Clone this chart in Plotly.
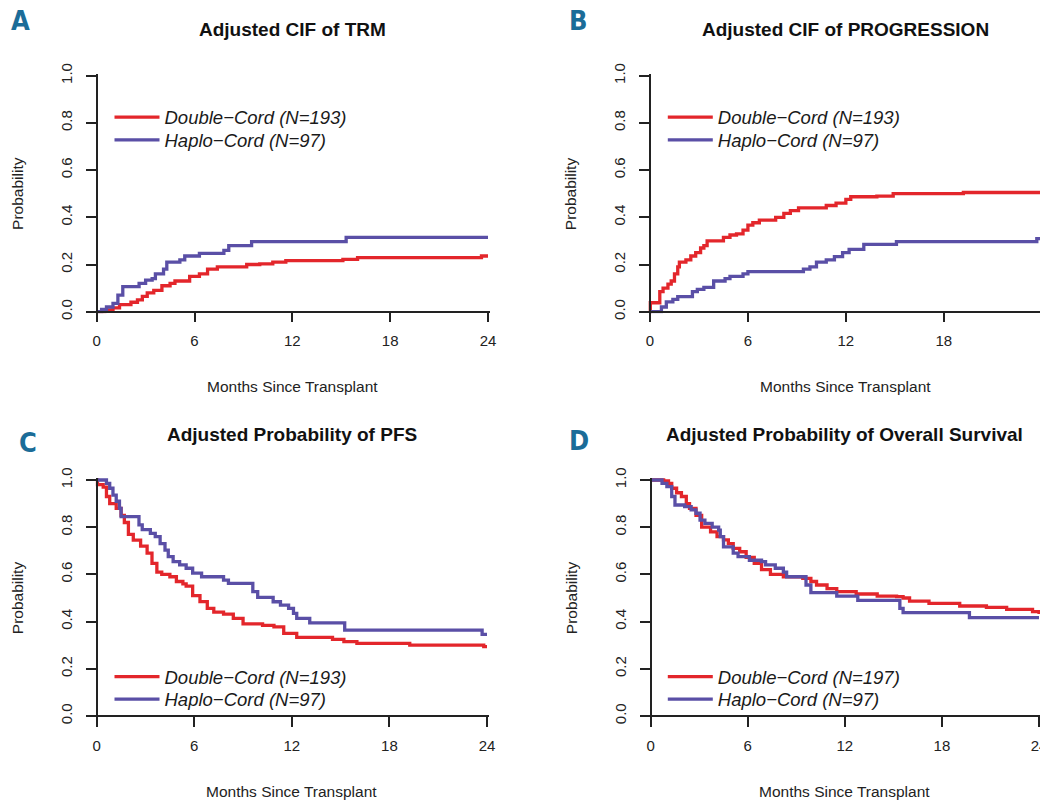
import plotly.graph_objects as go

# ---------------- data ----------------
months_ticks = [0, 6, 12, 18, 24]
prob_ticks = [0.0, 0.2, 0.4, 0.6, 0.8, 1.0]

trm_dc_t = [0, 0.5, 1.0, 1.4, 2.1, 2.5, 2.8, 3.1, 3.5, 4.0, 4.5, 4.8, 5.7, 6.3, 6.8, 7.4, 9.2, 10.0, 10.8, 11.6, 15.1, 16.0, 23.6, 24]
trm_dc_v = [0, 0.008, 0.016, 0.03, 0.04, 0.05, 0.065, 0.08, 0.09, 0.11, 0.12, 0.13, 0.15, 0.16, 0.18, 0.19, 0.20, 0.203, 0.21, 0.216, 0.222, 0.229, 0.236, 0.236]
trm_hc_t = [0, 0.3, 0.6, 1.0, 1.3, 1.6, 2.6, 3.0, 3.4, 3.6, 4.1, 4.3, 5.1, 5.4, 6.3, 7.8, 8.1, 9.5, 15.3, 24]
trm_hc_v = [0, 0.01, 0.02, 0.035, 0.07, 0.106, 0.12, 0.134, 0.14, 0.16, 0.18, 0.21, 0.22, 0.236, 0.247, 0.26, 0.28, 0.297, 0.315, 0.315]

prog_dc_t = [0, 0.02, 0.6, 0.8, 1.1, 1.3, 1.5, 1.7, 1.8, 2.2, 2.5, 2.8, 3.1, 3.3, 3.5, 4.5, 4.9, 5.3, 5.7, 6.0, 6.3, 6.7, 7.7, 8.2, 8.6, 9.1, 10.8, 11.4, 12.0, 12.3, 13.9, 14.9, 19.2, 24]
prog_dc_v = [0, 0.038, 0.085, 0.10, 0.117, 0.13, 0.16, 0.19, 0.21, 0.22, 0.236, 0.25, 0.27, 0.28, 0.30, 0.315, 0.325, 0.33, 0.346, 0.367, 0.377, 0.388, 0.40, 0.417, 0.428, 0.44, 0.45, 0.46, 0.476, 0.487, 0.49, 0.50, 0.505, 0.505]
prog_hc_t = [0, 0.4, 0.7, 1.0, 1.4, 1.7, 2.6, 2.9, 3.3, 3.9, 4.6, 4.9, 5.7, 6.0, 9.4, 9.8, 10.2, 10.8, 11.3, 11.8, 12.2, 13.1, 15.1, 23.7, 24]
prog_hc_v = [0, 0.0, 0.02, 0.042, 0.052, 0.064, 0.085, 0.095, 0.103, 0.13, 0.14, 0.15, 0.16, 0.17, 0.18, 0.19, 0.21, 0.22, 0.233, 0.25, 0.264, 0.285, 0.297, 0.31, 0.31]

pfs_dc_t = [0, 0.05, 0.4, 0.6, 0.8, 1.2, 1.5, 1.7, 1.95, 2.25, 2.7, 3.1, 3.4, 3.7, 4.0, 4.5, 4.9, 5.3, 5.5, 5.9, 6.35, 6.8, 7.2, 7.8, 8.4, 9.0, 10.2, 10.9, 11.5, 12.3, 14.5, 15.2, 16.0, 19.25, 23.8, 24]
pfs_dc_v = [1.0, 0.98, 0.97, 0.93, 0.90, 0.88, 0.85, 0.82, 0.77, 0.745, 0.72, 0.69, 0.647, 0.61, 0.60, 0.59, 0.57, 0.56, 0.55, 0.51, 0.485, 0.456, 0.44, 0.432, 0.414, 0.39, 0.384, 0.378, 0.35, 0.333, 0.325, 0.315, 0.308, 0.30, 0.294, 0.294]
pfs_hc_t = [0, 0.6, 0.8, 1.0, 1.2, 1.4, 1.5, 2.6, 2.8, 3.3, 3.6, 3.9, 4.2, 4.4, 4.7, 5.1, 5.5, 5.9, 6.45, 7.8, 8.1, 9.6, 9.9, 10.85, 11.3, 11.8, 12.1, 12.3, 13.1, 15.25, 23.7, 24]
pfs_hc_v = [1.0, 0.986, 0.965, 0.936, 0.91, 0.88, 0.845, 0.81, 0.79, 0.774, 0.76, 0.73, 0.703, 0.675, 0.654, 0.64, 0.626, 0.605, 0.59, 0.576, 0.562, 0.527, 0.503, 0.484, 0.47, 0.456, 0.435, 0.414, 0.395, 0.364, 0.346, 0.346]

os_dc_t = [0, 0.8, 1.1, 1.3, 1.6, 1.9, 2.2, 2.4, 2.8, 3.15, 3.7, 4.1, 4.5, 4.8, 5.1, 5.5, 5.9, 6.4, 6.85, 7.4, 8.2, 9.4, 9.9, 10.25, 10.9, 11.5, 12.7, 14.0, 15.2, 15.6, 16.0, 17.2, 19.1, 20.75, 22.0, 23.6, 24]
os_dc_v = [1.0, 0.996, 0.986, 0.965, 0.946, 0.93, 0.90, 0.88, 0.85, 0.80, 0.78, 0.76, 0.746, 0.73, 0.71, 0.696, 0.672, 0.647, 0.62, 0.60, 0.59, 0.583, 0.57, 0.555, 0.54, 0.527, 0.517, 0.508, 0.506, 0.50, 0.487, 0.477, 0.466, 0.46, 0.452, 0.442, 0.432]
os_hc_t = [0, 0.7, 1.0, 1.3, 1.5, 2.1, 2.5, 2.8, 3.05, 3.35, 3.8, 4.2, 4.3, 4.5, 5.1, 5.4, 6.1, 6.85, 7.1, 7.7, 8.2, 8.4, 9.6, 9.9, 11.5, 12.8, 15.4, 15.6, 19.7, 24]
os_hc_v = [1.0, 0.986, 0.972, 0.93, 0.894, 0.887, 0.873, 0.859, 0.83, 0.816, 0.80, 0.788, 0.76, 0.717, 0.69, 0.675, 0.66, 0.654, 0.64, 0.626, 0.61, 0.59, 0.555, 0.523, 0.508, 0.49, 0.456, 0.438, 0.417, 0.417]

panel_titles = ["Adjusted CIF of TRM", "Adjusted CIF of PROGRESSION",
                "Adjusted Probability of PFS", "Adjusted Probability of Overall Survival"]
panel_letters = ["A", "B", "C", "D"]
dc_names = ["Double\u2212Cord (N=193)", "Double\u2212Cord (N=193)",
            "Double\u2212Cord (N=193)", "Double\u2212Cord (N=197)"]
hc_names = ["Haplo\u2212Cord (N=97)"] * 4
x_title = "Months Since Transplant"
y_title = "Probability"

series = [
    (trm_dc_t, trm_dc_v, trm_hc_t, trm_hc_v),
    (prog_dc_t, prog_dc_v, prog_hc_t, prog_hc_v),
    (pfs_dc_t, pfs_dc_v, pfs_hc_t, pfs_hc_v),
    (os_dc_t, os_dc_v, os_hc_t, os_hc_v),
]

# ---------------- layout geometry (window pixels) ----------------
OFF = 8                     # page body margin of the html page
FW, FH = 1040, 793          # figure size so that it fits the 1048x801 window
RED = "#e3262b"
BLUE = "#5a4fa6"
TEAL = "#1b6c98"
FONT = "Liberation Sans, Arial, Helvetica, sans-serif"


def fx(p):
    return (p - OFF) / FW


def fy(p):
    return 1 - (p - OFF) / FH


# window-pixel position of x=0, x=24, y=0, y=1 for each panel
geom = [
    (96.7, 488.0, 311.7, 75.7),
    (650.0, 1041.7, 311.7, 75.7),
    (96.7, 487.0, 716.0, 480.0),
    (650.7, 1039.0, 716.0, 480.0),
]
# legend line start x, first and second item centre y
leg_pos = [(111.7, 117.3, 140.0), (665.0, 117.3, 140.0),
           (111.7, 676.7, 699.3), (665.0, 676.7, 699.3)]
title_y = [29.5, 29.5, 434.0, 434.0]
letter_pos = [(20, 20.5), (578, 20.5), (27.5, 442.0), (579, 440.0)]

XPAD, YPAD = 0.12, 0.008

fig = go.Figure()
layout = dict(
    width=FW, height=FH, margin=dict(l=0, r=0, t=0, b=0, pad=0, autoexpand=False),
    paper_bgcolor="white", plot_bgcolor="white",
    font=dict(family=FONT, color="#1a1a1a"),
    annotations=[],
)


def legend_box(line_x, centre_y):
    # place a one-entry legend so that its line starts near line_x and is centred at centre_y
    return dict(
        x=fx(line_x - 2.2), y=fy(centre_y - 18.7), xanchor="left", yanchor="top",
        bgcolor="rgba(0,0,0,0)", borderwidth=0, itemwidth=45,
        font=dict(family=FONT, size=18.5, style="italic", color="#1a1a1a"),
    )


for i, (x0p, x1p, y0p, y1p) in enumerate(geom):
    k = "" if i == 0 else str(i + 1)
    pxm = (x1p - x0p) / 24.0
    pym = (y0p - y1p)
    xd = [fx(x0p - XPAD * pxm), fx(x1p + XPAD * pxm)]
    yd = [fy(y0p + YPAD * pym), fy(y1p - YPAD * pym)]
    layout["xaxis" + k] = dict(
        domain=xd, range=[-XPAD, 24 + XPAD], anchor="free", position=fy(y0p),
        automargin=False,
        showline=True, linecolor="#222", linewidth=1.5, showgrid=False, zeroline=False,
        ticks="outside", ticklen=10, tickwidth=1.5, tickcolor="#222",
        tickvals=months_ticks, ticktext=[str(v) for v in months_ticks],
        tickfont=dict(size=15, color="#222"), ticklabelstandoff=6, fixedrange=True,
    )
    layout["yaxis" + k] = dict(
        domain=yd, range=[-YPAD, 1 + YPAD], anchor="free", position=fx(x0p),
        automargin=False,
        showline=True, linecolor="#222", linewidth=1.5, showgrid=False, zeroline=False,
        ticks="outside", ticklen=10, tickwidth=1.5, tickcolor="#222",
        tickvals=prob_ticks, ticktext=["%.1f" % v for v in prob_ticks],
        tickangle=-90, tickfont=dict(size=15, color="#222"), ticklabelstandoff=8, fixedrange=True,
    )
    lx, ly1, ly2 = leg_pos[i]
    lg_a = "legend" if i == 0 else "legend%d" % (2 * i + 1)
    lg_b = "legend%d" % (2 * i + 2)
    layout[lg_a] = legend_box(lx, ly1)
    layout[lg_b] = legend_box(lx, ly2)

    dct, dcv, hct, hcv = series[i]
    fig.add_trace(go.Scatter(
        x=dct, y=dcv, mode="lines", line=dict(color=RED, width=3.3, shape="hv"),
        name=dc_names[i], xaxis="x" + k, yaxis="y" + k, legend=lg_a, showlegend=True))
    fig.add_trace(go.Scatter(
        x=hct, y=hcv, mode="lines", line=dict(color=BLUE, width=3.3, shape="hv"),
        name=hc_names[i], xaxis="x" + k, yaxis="y" + k, legend=lg_b, showlegend=True))

    cx = (x0p + x1p) / 2
    cy = (y0p + y1p) / 2
    layout["annotations"] += [
        dict(text="<b>%s</b>" % panel_titles[i], x=fx(cx), y=fy(title_y[i]),
             xref="paper", yref="paper", xanchor="center", yanchor="middle", showarrow=False,
             font=dict(family=FONT, size=19, color="#111")),
        dict(text=x_title, x=fx(cx), y=fy(y0p + 75),
             xref="paper", yref="paper", xanchor="center", yanchor="middle", showarrow=False,
             font=dict(family=FONT, size=15.5, color="#222")),
        dict(text=y_title, x=fx(x0p - 79.5), y=fy(cy), textangle=-90,
             xref="paper", yref="paper", xanchor="center", yanchor="middle", showarrow=False,
             font=dict(family=FONT, size=15.5, color="#222")),
        dict(text="<b>%s</b>" % panel_letters[i], x=fx(letter_pos[i][0]), y=fy(letter_pos[i][1]),
             xref="paper", yref="paper", xanchor="center", yanchor="middle", showarrow=False,
             font=dict(family="Liberation Sans Narrow, DejaVu Sans Condensed, Arial Narrow, sans-serif",
                       size=27, color=TEAL)),
    ]

fig.update_layout(**layout)
fig.write_html("out.html")
